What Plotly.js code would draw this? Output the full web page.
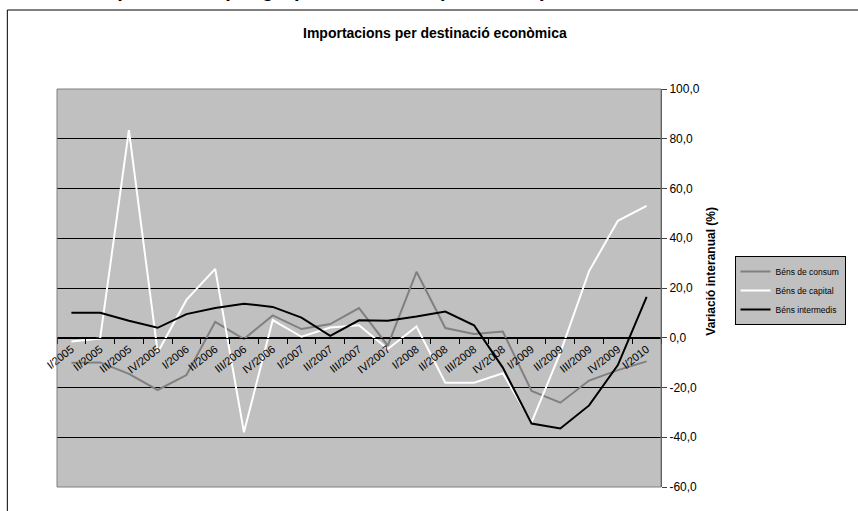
<!DOCTYPE html>
<html>
<head>
<meta charset="utf-8">
<script src="https://cdn.plot.ly/plotly-3.0.1.min.js"></script>
<style>
  html, body { margin: 0; padding: 0; background: #ffffff; }
  #chart { width: 858px; height: 511px; }
</style>
</head>
<body>
<div id="chart"></div>
<script>
// ---- Data ----
const categories = ["I/2005","II/2005","III/2005","IV/2005","I/2006","II/2006","III/2006","IV/2006",
  "I/2007","II/2007","III/2007","IV/2007","I/2008","II/2008","III/2008","IV/2008",
  "I/2009","II/2009","III/2009","IV/2009","I/2010"];
const bensConsum = [-10.1, -9.9, -14.5, -21.0, -15.0, 6.4, -0.5, 9.0, 3.5, 5.5, 11.9, -3.2, 26.5, 3.9, 1.5, 2.5, -21.4, -26.1, -17.2, -13.0, -9.5];
const bensCapital = [-1.5, -0.3, 83.5, -5.9, 15.2, 27.7, -38.0, 7.1, 0.4, 4.1, 5.0, -4.5, 4.5, -18.1, -18.1, -14.3, -34.0, -6.0, 26.8, 47.0, 53.0];
const bensIntermedis = [10.0, 10.0, 6.8, 4.0, 9.5, 12.0, 13.7, 12.4, 8.1, 0.8, 7.0, 6.8, 8.5, 10.5, 5.0, -12.0, -34.5, -36.5, -27.2, -11.0, 16.4];
const seriesNames = ["Béns de consum", "Béns de capital", "Béns intermedis"];
const yTickVals = [-60, -40, -20, 0, 20, 40, 60, 80, 100];
const yTickText = ["-60,0", "-40,0", "-20,0", "0,0", "20,0", "40,0", "60,0", "80,0", "100,0"];
const chartTitle = "Importacions per destinació econòmica";
const pageTitle = "Importacions per grups d'utilització (2005-2010)";
const yTitle = "Variació interanual (%)";

const FONT = "Liberation Sans, Arial, sans-serif";

const traces = [
  { x: categories, y: bensConsum, name: seriesNames[0], type: "scatter", mode: "lines",
    line: { color: "#808080", width: 2 } },
  { x: categories, y: bensCapital, name: seriesNames[1], type: "scatter", mode: "lines",
    line: { color: "#ffffff", width: 2 } },
  { x: categories, y: bensIntermedis, name: seriesNames[2], type: "scatter", mode: "lines",
    line: { color: "#000000", width: 2 } }
];

// plot area: x 57..665, y 89..487
const L = 57, R = 665, T = 89, B = 487;
const px = v => (v - L) / (R - L);
const py = v => (B - v) / (B - T);

const layout = {
  width: 858, height: 511,
  margin: { l: L, r: 858 - R, t: T, b: 511 - B },
  paper_bgcolor: "#ffffff",
  plot_bgcolor: "#c0c0c0",
  font: { family: FONT, color: "#000000", size: 11 },
  showlegend: true,
  legend: {
    x: px(739), y: py(256), xanchor: "left", yanchor: "top",
    bgcolor: "#c0c0c0", bordercolor: "#000000", borderwidth: 1,
    font: { family: FONT, size: 8.5, color: "#000000" },
    itemwidth: 30, tracegroupgap: 0
  },
  xaxis: {
    type: "category",
    range: [-0.5, categories.length - 0.5],
    anchor: "free", position: (0 - (-60)) / 160,
    showline: true, linecolor: "#000000", linewidth: 1,
    ticks: "outside", tickson: "boundaries", ticklen: 5, tickcolor: "#000000",
    tickangle: -38,
    tickfont: { family: FONT, size: 11, color: "#000000" },
    showgrid: false, zeroline: false, fixedrange: true
  },
  yaxis: {
    side: "right",
    range: [-60, 100],
    tickvals: yTickVals, ticktext: yTickText,
    showline: true, linecolor: "#404040", linewidth: 1,
    ticks: "outside", ticklen: 5, tickcolor: "#404040",
    tickfont: { family: FONT, size: 12, color: "#000000" },
    showgrid: true, gridcolor: "#000000", gridwidth: 1,
    zeroline: true, zerolinecolor: "#000000", zerolinewidth: 1,
    fixedrange: true
  },
  shapes: [
    { type: "rect", xref: "paper", yref: "paper", x0: px(7), x1: px(880), y0: py(530), y1: py(10),
      line: { color: "#000000", width: 1 }, fillcolor: "rgba(0,0,0,0)", layer: "below" },
    { type: "rect", xref: "paper", yref: "paper", x0: 0, x1: 1, y0: 0, y1: 1,
      line: { color: "#808080", width: 1 }, fillcolor: "rgba(0,0,0,0)", layer: "above" }
  ],
  annotations: [
    { text: pageTitle, xref: "paper", yref: "paper", x: px(552), y: py(-10),
      xanchor: "right", yanchor: "middle", showarrow: false,
      font: { family: FONT, size: 20, color: "#000000", weight: "bold" } },
    { text: "<b>" + chartTitle + "</b>", xref: "paper", yref: "paper", x: px(437), y: py(33),
      xanchor: "center", yanchor: "middle", showarrow: false,
      font: { family: FONT, size: 14, color: "#000000" } },
    { text: "<b>" + yTitle + "</b>", xref: "paper", yref: "paper", x: px(715), y: py(271),
      xanchor: "center", yanchor: "middle", textangle: -90, showarrow: false,
      font: { family: FONT, size: 12, color: "#000000" } }
  ]
};

Plotly.newPlot("chart", traces, layout, { displayModeBar: false, staticPlot: true });
</script>
</body>
</html>
